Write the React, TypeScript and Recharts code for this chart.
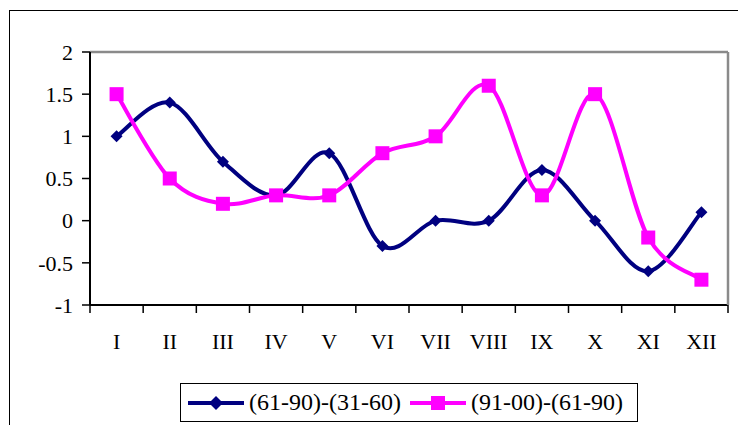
import { ComposedChart, Line, XAxis, YAxis, CartesianGrid, ReferenceLine } from 'recharts';

const months = ['I', 'II', 'III', 'IV', 'V', 'VI', 'VII', 'VIII', 'IX', 'X', 'XI', 'XII'];
const diff6190 = [1.0, 1.4, 0.7, 0.3, 0.8, -0.3, 0.0, 0.0, 0.6, 0.0, -0.6, 0.1];
const diff9100 = [1.5, 0.5, 0.2, 0.3, 0.3, 0.8, 1.0, 1.6, 0.3, 1.5, -0.2, -0.7];
const yTicks = [-1, -0.5, 0, 0.5, 1, 1.5, 2];

const series = [
  { key: 'a', name: '(61-90)-(31-60)', values: diff6190, color: '#000080', marker: 'diamond' },
  { key: 'b', name: '(91-00)-(61-90)', values: diff9100, color: '#FF00FF', marker: 'square' },
];

const data = months.map((m, i) => ({ month: m, a: diff6190[i], b: diff9100[i] }));

const W = 738;
const H = 425;
const LEFT = 90;
const RIGHT = 10;
const FONT = '"Liberation Serif", "Times New Roman", serif';
const BAND = (W - LEFT - RIGHT) / months.length;

// excel-like smoothing (catmull-rom through the points)
const smooth = (ctx: any) => {
  let pts: number[][] = [];
  return {
    areaStart() {},
    areaEnd() {},
    lineStart() { pts = []; },
    point(x: number, y: number) { pts.push([+x, +y]); },
    lineEnd() {
      if (!pts.length) return;
      ctx.moveTo(pts[0][0], pts[0][1]);
      for (let i = 0; i < pts.length - 1; i++) {
        const p0 = pts[Math.max(i - 1, 0)];
        const p1 = pts[i];
        const p2 = pts[i + 1];
        const p3 = pts[Math.min(i + 2, pts.length - 1)];
        ctx.bezierCurveTo(
          p1[0] + (p2[0] - p0[0]) / 6, p1[1] + (p2[1] - p0[1]) / 6,
          p2[0] - (p3[0] - p1[0]) / 6, p2[1] - (p3[1] - p1[1]) / 6,
          p2[0], p2[1]
        );
      }
    },
  };
};

function Marker({ cx, cy, kind, color, big }: any) {
  if (cx == null || cy == null) return null;
  if (kind === 'diamond') {
    const r = big ? 7 : 6;
    return <polygon points={`${cx},${cy - r} ${cx + r},${cy} ${cx},${cy + r} ${cx - r},${cy}`} fill={color} />;
  }
  const s = 7;
  return <rect x={cx - s} y={cy - s} width={s * 2} height={s * 2} fill={color} />;
}

function MonthTick({ x, y, payload, index }: any) {
  return (
    <g>
      <line x1={x - BAND / 2} x2={x - BAND / 2} y1={y - 8} y2={y} stroke="#000" strokeWidth={1.5} />
      {index === months.length - 1 && (
        <line x1={x + BAND / 2} x2={x + BAND / 2} y1={y - 8} y2={y} stroke="#000" strokeWidth={1.5} />
      )}
      <text x={x} y={y + 36} textAnchor="middle" fontSize={22} fontFamily={FONT} fill="#000">
        {payload.value}
      </text>
    </g>
  );
}

export default function App() {
  return (
    <div style={{ position: 'absolute', left: 0, top: 0, width: W, height: H, overflow: 'hidden', background: '#fff' }}>
      <div style={{ position: 'absolute', left: 9, top: 10, width: 900, height: 600, borderLeft: '1px solid #000', borderTop: '1px solid #000' }} />
      <div style={{ position: 'absolute', left: 0, top: 0 }}>
        <ComposedChart width={W} height={H} data={data} margin={{ top: 52, right: 0, bottom: 70, left: 0 }}>
          <CartesianGrid vertical={false} stroke="#808080" strokeWidth={1.3} />
          <ReferenceLine y={2} yAxisId="l" stroke="#8a8a8a" strokeWidth={2.5} />
          <XAxis
            dataKey="month"
            scale="band"
            interval={0}
            height={50}
            tickSize={8}
            tickMargin={0}
            tickLine={false}
            axisLine={{ stroke: '#000', strokeWidth: 2 }}
            tick={<MonthTick />}
          />
          <YAxis
            yAxisId="l"
            width={LEFT}
            domain={[-1, 2]}
            ticks={yTicks}
            interval={0}
            tickSize={8}
            tickMargin={9}
            axisLine={{ stroke: '#000', strokeWidth: 2 }}
            tickLine={{ stroke: '#000', strokeWidth: 1.5 }}
            tick={{ fontSize: 22, fontFamily: FONT, fill: '#000' }}
          />
          <YAxis
            yAxisId="r"
            orientation="right"
            width={RIGHT}
            domain={[-1, 2]}
            tick={false}
            tickLine={false}
            axisLine={{ stroke: '#8a8a8a', strokeWidth: 2.5 }}
          />
          {series.map((s) => (
            <Line
              key={s.key}
              yAxisId="l"
              dataKey={s.key}
              name={s.name}
              type={smooth as any}
              stroke={s.color}
              strokeWidth={4}
              isAnimationActive={false}
              dot={(p: any) => <Marker key={`${s.key}-${p.index}`} cx={p.cx} cy={p.cy} kind={s.marker} color={s.color} />}
              activeDot={false}
            />
          ))}
        </ComposedChart>
      </div>
      <div
        style={{
          position: 'absolute', left: 180, top: 383, width: 456, height: 37,
          border: '1px solid #000', display: 'flex', alignItems: 'center',
          fontFamily: FONT, fontSize: 24, color: '#000', boxSizing: 'content-box',
        }}
      >
        {series.map((s, i) => (
          <div key={s.key} style={{ display: 'flex', alignItems: 'center', marginLeft: i === 0 ? 6 : 8 }}>
            <svg width={58} height={20} style={{ marginRight: 4 }}>
              <line x1={1} x2={57} y1={10} y2={10} stroke={s.color} strokeWidth={4} />
              <Marker cx={29} cy={10} kind={s.marker} color={s.color} big />
            </svg>
            <span>{s.name}</span>
          </div>
        ))}
      </div>
    </div>
  );
}
